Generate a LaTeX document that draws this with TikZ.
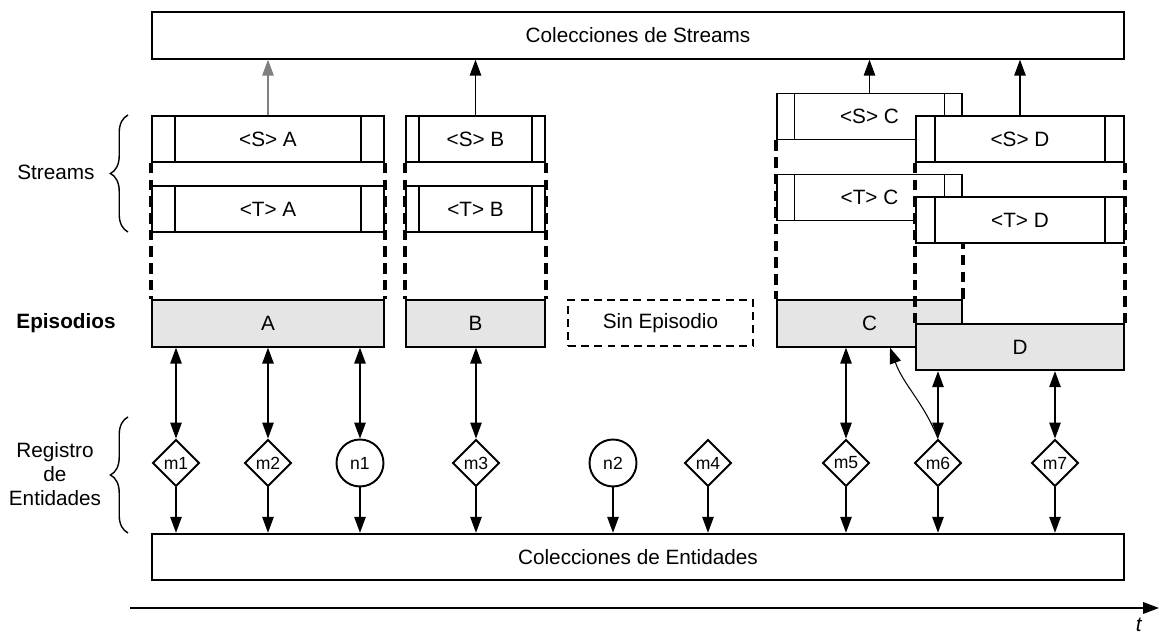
\documentclass[tikz,border=0pt]{standalone}
\usepackage{fontspec}
\setmainfont{Liberation Sans}
\usetikzlibrary{arrows.meta,shapes.geometric,decorations.pathreplacing}
\tikzstyle{coll}=[draw,line width=1.1pt,minimum width=19.44cm,minimum height=0.93cm,inner sep=0pt]
\tikzstyle{strm}=[draw,fill=white,line width=1.1pt,minimum height=0.92cm,inner sep=0pt]
\tikzstyle{sep}=[line width=0.8pt]
\tikzstyle{epi}=[draw,fill=black!10,line width=1.1pt,minimum height=0.93cm,inner sep=0pt]
\tikzstyle{noepi}=[draw,line width=1pt,dash pattern=on 4.5pt off 3pt,minimum width=3.7cm,minimum height=0.92cm,inner sep=0pt]
\tikzstyle{epline}=[draw,line width=1.8pt,dash pattern=on 6pt off 3.5pt]
\tikzstyle{ment}=[diamond,draw,fill=white,line width=1.1pt,minimum size=0.94cm,inner sep=0pt,font=\fontsize{10}{12}\selectfont]
\tikzstyle{nent}=[circle,draw,fill=white,line width=1.1pt,minimum size=0.94cm,inner sep=0pt,font=\fontsize{10}{12}\selectfont]
\tikzstyle{link}=[line width=0.6pt]
\tikzstyle{brc}=[decorate,decoration={brace,amplitude=10pt},line width=0.8pt]
\newcommand{\strmbox}[6]{%
  \node[strm,minimum width=#4] (#1) at (#2,#3) {#6};
  \draw[sep] ([xshift=#5]#1.north west) -- ([xshift=#5]#1.south west)
    ([xshift=-#5]#1.north east) -- ([xshift=-#5]#1.south east);
}

\begin{document}
\begin{tikzpicture}[x=0.02cm,y=-0.02cm,font=\fontsize{11.8}{13.8}\selectfont,>={Triangle[length=9pt,width=6.5pt]}]
    \useasboundingbox (0,0) rectangle (1161,634);
    \node[coll] (top) at (638,35.5) {Colecciones de Streams};
    \node[coll] (ent) at (638,557) {Colecciones de Entidades};
    % etiquetas
    \node (lstr) at (56,172) {Streams};
    \node[font=\fontsize{11.8}{13.8}\selectfont\bfseries] (lepi) at (66,323) {Episodios};
    \node[align=center] (lreg) at (55,474) {Registro\\de\\Entidades};
    \draw[brc] (128,232) -- (128,115);
    \draw[brc] (128,533) -- (128,417);
    % A
    \strmbox{sA}{268}{139}{4.64cm}{0.48cm}{<S> A}
    \strmbox{tA}{268}{209}{4.64cm}{0.48cm}{<T> A}
    \node[epi,minimum width=4.64cm] (eA) at (268,323.5) {A};
    \path[epline] (sA.south west) -- (eA.north west) (sA.south east) -- (eA.north east);
    % B
    \strmbox{sB}{475.5}{139}{2.78cm}{0.28cm}{<S> B}
    \strmbox{tB}{475.5}{209}{2.78cm}{0.28cm}{<T> B}
    \node[epi,minimum width=2.78cm] (eB) at (475.5,323.5) {B};
    \path[epline] (sB.south west) -- (eB.north west) (sB.south east) -- (eB.north east);
    \node[noepi] (sin) at (660.5,323) {Sin Episodio};
    % C
    \strmbox{sC}{869.5}{116.5}{3.7cm}{0.37cm}{<S> C}
    \strmbox{tC}{869.5}{197.5}{3.7cm}{0.37cm}{<T> C}
    \node[epi,minimum width=3.7cm] (eC) at (869.5,323.5) {C};
    \path[epline] (sC.south west) -- (eC.north west) (tC.south east) -- (eC.north east);
    % D
    \strmbox{sD}{1020}{139}{4.16cm}{0.4cm}{<S> D}
    \strmbox{tD}{1020}{220}{4.16cm}{0.4cm}{<T> D}
    \node[epi,minimum width=4.16cm] (eD) at (1020,347) {D};
    \path[epline] (sD.south west) -- (eD.north west) (sD.south east) -- (eD.north east);
    \draw[link,->,gray] (sA) -- (sA |- top.south);
    \foreach \s in {sB,sC,sD}
        \draw[link,->] (\s) -- (\s |- top.south);
    % entidades
    \node[ment] (m1) at (176,463) {m1};
    \node[ment] (m2) at (268,463) {m2};
    \node[nent] (n1) at (360,463) {n1};
    \node[ment] (m3) at (476,463) {m3};
    \node[nent] (n2) at (613,463) {n2};
    \node[ment] (m4) at (708,463) {m4};
    \node[ment] (m5) at (846,463) {m5};
    \node[ment] (m6) at (938,463) {m6};
    \node[ment] (m7) at (1055,463) {m7};
    \foreach \m/\e in {m1/eA,m2/eA,n1/eA,m3/eB,m5/eC,m6/eD,m7/eD}
        \draw[link,<->] (\m |- \e.south) -- (\m);
    \foreach \m in {m1,m2,n1,m3,n2,m4,m5,m6,m7}
        \draw[link,->] (\m) -- (\m |- ent.north);
    \draw[link,->] (m6.north) to[out=112,in=-70] ([xshift=0.41cm]eC.south);
    % tiempo
    \coordinate (t0) at (130,608);
    \coordinate (t1) at (1159,608);
    \draw[line width=1pt,->] (t0) -- (t1);
    \node (tl) at (1139,625) {\textit{t}};
\end{tikzpicture}
\end{document}
